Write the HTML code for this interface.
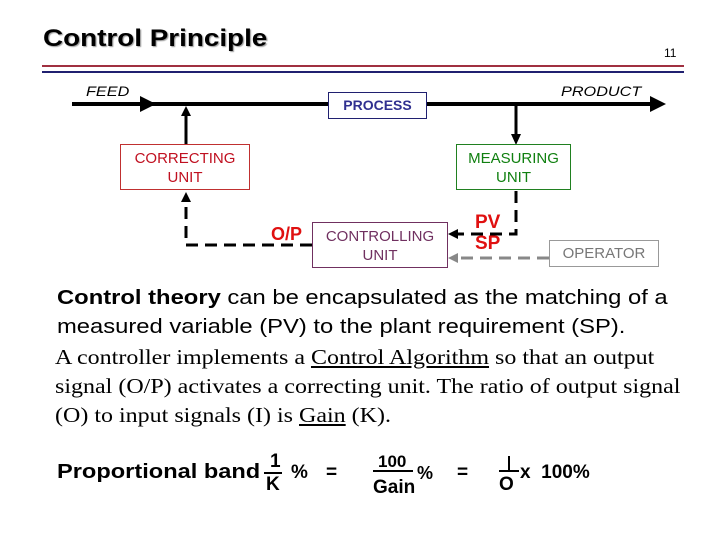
<!DOCTYPE html>
<html><head><meta charset="utf-8"><style>
body{margin:0;width:720px;height:540px;background:#fff;position:relative;overflow:hidden;font-family:"Liberation Sans",Arial,sans-serif}
.a{position:absolute;white-space:nowrap}
.x{transform:scaleX(1.16);transform-origin:0 0}
.box{position:absolute;box-sizing:border-box;border:1px solid;text-align:center;font-size:14px;line-height:19px;background:#fff}
.s{font-family:"Liberation Serif",serif;font-size:21px;left:55px}
.u{text-decoration:underline}
</style></head><body>
<div class="a x" style="left:43px;top:25px;font-size:24px;font-weight:bold;text-shadow:1px 1px 1px #999">Control Principle</div>
<div class="a" style="left:664px;top:46px;font-size:12px">11</div>
<div class="a" style="left:42px;top:65px;width:642px;height:2px;background:#a03040"></div>
<div class="a" style="left:42px;top:71px;width:642px;height:2px;background:#202070"></div>
<div class="a x" style="left:86px;top:83px;font-size:14px;font-style:italic">FEED</div>
<div class="a x" style="left:561px;top:83px;font-size:14px;font-style:italic">PRODUCT</div>
<svg class="a" style="left:0;top:0" width="720" height="540">
<line x1="72" y1="104" x2="660" y2="104" stroke="#000" stroke-width="4"/>
<path d="M140,96L156,104L140,112z"/>
<path d="M650,96L666,104L650,112z"/>
<line x1="186" y1="145" x2="186" y2="112" stroke="#000" stroke-width="3"/>
<path d="M181,116L186,106L191,116z"/>
<line x1="516" y1="106" x2="516" y2="136" stroke="#000" stroke-width="3"/>
<path d="M511,134L516,145L521,134z"/>
<path d="M516,191V234H456" fill="none" stroke="#000" stroke-width="3" stroke-dasharray="12,7"/>
<path d="M458,229L448,234L458,239z"/>
<path d="M312,245H186V200" fill="none" stroke="#000" stroke-width="3" stroke-dasharray="12,7"/>
<path d="M181,202L186,192L191,202z"/>
<path d="M549,258H456" fill="none" stroke="#888" stroke-width="3" stroke-dasharray="12,7"/>
<path d="M458,253L448,258L458,263z" fill="#888"/>
</svg>
<div class="box" style="left:328px;top:92px;width:99px;height:27px;border-color:#202070;color:#303090;line-height:25px;font-weight:bold">PROCESS</div>
<div class="box" style="left:120px;top:144px;width:130px;height:46px;border-color:#c03030;color:#c01020;padding-top:4px;font-size:15px">CORRECTING<br>UNIT</div>
<div class="box" style="left:456px;top:144px;width:115px;height:46px;border-color:#208020;color:#108010;padding-top:4px;font-size:15px">MEASURING<br>UNIT</div>
<div class="box" style="left:312px;top:222px;width:136px;height:46px;border-color:#703060;color:#703060;padding-top:4px;font-size:15px">CONTROLLING<br>UNIT</div>
<div class="box" style="left:549px;top:240px;width:110px;height:27px;border-color:#999;color:#777;line-height:25px;font-size:15px">OPERATOR</div>
<div class="a" style="left:271px;top:224px;font-size:18px;font-weight:bold;color:#e01010">O/P</div>
<div class="a" style="left:475px;top:212px;font-size:19px;font-weight:bold;color:#e01010;line-height:21px">PV<br>SP</div>
<div class="a x" style="left:57px;top:283px;font-size:20.5px;line-height:29px">
<b>Control theory</b> can be encapsulated as the matching of a<br>measured variable (PV) to the plant requirement (SP).</div>
<div class="a s" style="top:343px;line-height:29px;transform:scaleX(1.143);transform-origin:0 0">A controller implements a <span class="u">Control Algorithm</span> so that an output<br>signal (O/P) activates a correcting unit. The ratio of output signal<br>(O) to input signals (I) is <span class="u">Gain</span> (K).</div>
<div class="a" style="left:57px;top:461px;font-size:20px;font-weight:bold;transform:scaleX(1.18);transform-origin:0 0">Proportional band</div>
<div class="a" style="left:270px;top:451px;font-size:19px;font-weight:bold">1</div>
<div class="a" style="left:264px;top:472px;width:18px;height:2px;background:#000"></div>
<div class="a" style="left:266px;top:474px;font-size:19px;font-weight:bold">K</div>
<div class="a" style="left:291px;top:462px;font-size:19px;font-weight:bold">%</div>
<div class="a" style="left:326px;top:462px;font-size:19px;font-weight:bold">=</div>
<div class="a" style="left:378px;top:452px;font-size:17px;font-weight:bold">100</div>
<div class="a" style="left:373px;top:470px;width:40px;height:2px;background:#000"></div>
<div class="a" style="left:373px;top:477px;font-size:19px;font-weight:bold">Gain</div>
<div class="a" style="left:417px;top:463px;font-size:18px;font-weight:bold">%</div>
<div class="a" style="left:457px;top:462px;font-size:19px;font-weight:bold">=</div>
<div class="a" style="left:508px;top:456px;width:2px;height:14px;background:#000"></div>
<div class="a" style="left:499px;top:470px;width:20px;height:2px;background:#000"></div>
<div class="a" style="left:499px;top:474px;font-size:19px;font-weight:bold">O</div>
<div class="a" style="left:520px;top:462px;font-size:19px;font-weight:bold">x&nbsp;&nbsp;100%</div>
</body></html>
